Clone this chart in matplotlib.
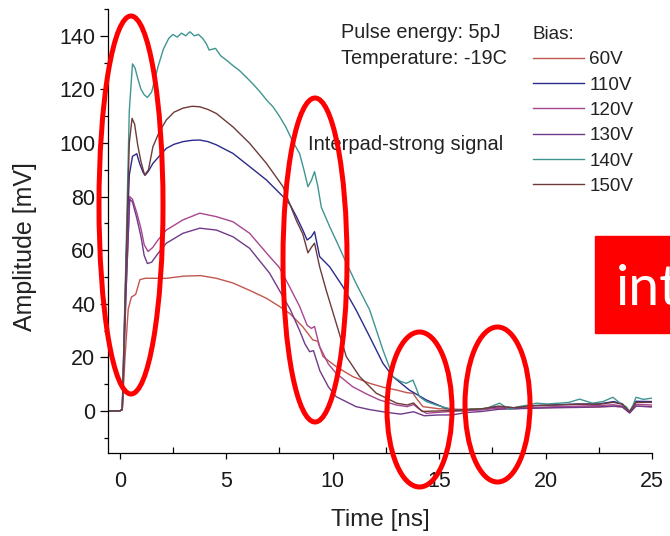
import matplotlib
matplotlib.use("Agg")
from matplotlib import pyplot as plt
from matplotlib.patches import Ellipse, Rectangle
from matplotlib.ticker import MultipleLocator

plt.rcParams['font.family'] = ['Liberation Sans', 'DejaVu Sans']

# 140V
t140 = [-0.55, 0.0, 0.12, 0.3, 0.45, 0.6, 0.72, 0.85, 1.0, 1.15,
        1.3, 1.5, 1.8, 2.05, 2.3, 2.5, 2.7, 2.9, 3.1, 3.3,
        3.5, 3.7, 3.9, 4.07, 4.2, 4.5, 4.75, 5.0, 5.3, 5.63,
        5.95, 6.26, 6.6, 6.9, 7.2, 7.5, 7.8, 8.1, 8.45, 8.65,
        8.84, 9.0, 9.15, 9.3, 9.47, 9.86, 10.3, 10.6, 11.1, 11.74,
        12.36, 12.83, 13.2, 13.46, 13.77, 13.9, 14.08, 14.4, 14.87, 15.3,
        15.8, 16.1, 16.5, 16.9, 17.3, 17.84, 18.3, 18.8, 19.2, 19.56,
        20.1, 20.65, 21.1, 21.6, 22.2, 22.7, 23.16, 23.5, 23.8, 23.94,
        24.1, 24.25, 24.6, 25.0]
a140 = [0.0, 0.0, 0.5, 60, 112, 129.5, 128, 124, 120, 118,
        117, 119, 128.5, 135, 139, 140.5, 139.5, 141, 140, 141.5,
        140, 140.5, 139, 137, 134.7, 135.3, 132.5, 131, 129, 127,
        124.5, 122, 119, 116, 113.5, 110, 106, 101, 96, 90,
        83.7, 86, 89.3, 84, 76, 68.8, 61.3, 56, 47.6, 37.7,
        22.8, 12.8, 11, 10.3, 11.5, 9, 5.3, 3.5, 2.2, 1.2,
        0.4, 0.0, 0.8, 0.6, 1.2, 2.9, 0.6, 1.7, 2.2, 2.9,
        2.6, 2.9, 3.2, 4.4, 2.9, 3.5, 5.1, 2.9, 1.5, -0.2,
        2.0, 5.1, 4.3, 4.8]

# 150V
t150 = [-0.55, 0.0, 0.12, 0.3, 0.45, 0.58, 0.7, 0.85, 1.0, 1.17,
        1.35, 1.56, 1.85, 2.19, 2.55, 2.97, 3.4, 3.76, 4.15, 4.54,
        5.32, 6.1, 6.89, 7.67, 8.0, 8.3, 8.6, 8.84, 9.0, 9.15,
        9.39, 9.7, 10.17, 10.64, 11.27, 12.05, 12.6, 13.0, 13.5, 13.8,
        14.2, 15.0, 16.0, 17.0, 17.8, 18.5, 19.5, 20.5, 21.5, 22.5,
        23.2, 23.6, 23.95, 24.25, 25.0]
a150 = [0.0, 0.0, 0.5, 55, 100, 109.2, 107, 99, 93, 88,
        90, 98.6, 104, 108.6, 111.5, 113, 113.7, 113.5, 112.5, 111,
        106, 99.9, 92.4, 83.7, 77, 71, 66, 59, 61, 62.6,
        53.8, 45, 32.7, 20.3, 12.8, 6.6, 4.5, 2.9, 2.2, 3.0,
        -0.2, 0.0, 0.3, 0.8, 1.8, 1.2, 2.0, 2.2, 2.5, 2.5,
        3.2, 2.5, -0.3, 3.2, 3.2]

# 110V
t110 = [-0.55, 0.0, 0.12, 0.3, 0.45, 0.6, 0.8, 0.95, 1.1, 1.2,
        1.35, 1.56, 1.85, 2.19, 2.55, 2.97, 3.4, 3.76, 4.15, 4.54,
        5.32, 6.1, 6.89, 7.67, 8.0, 8.3, 8.6, 8.8, 9.0, 9.15,
        9.39, 9.86, 10.48, 11.1, 11.74, 12.36, 12.83, 13.6, 14.4, 15.3,
        16.0, 17.0, 17.8, 18.5, 19.5, 20.5, 21.5, 22.5, 23.2, 23.6,
        23.95, 24.25, 25.0]
a110 = [0.0, 0.0, 0.5, 55, 88, 95, 96, 92, 89, 88,
        89.5, 92.4, 95, 98, 99.5, 100.5, 101, 101.1, 100.5, 99.3,
        96.1, 91.2, 86.2, 80, 77, 72.5, 67.5, 63.8, 65, 66.9,
        57.6, 53.8, 46.4, 37.7, 27.7, 17.8, 12.8, 7.8, 4.1, 1.0,
        0.2, 0.6, 1.6, 1.2, 2.0, 2.3, 2.6, 2.6, 3.5, 2.7,
        -0.3, 3.6, 3.5]

# 120V
t120 = [-0.55, 0.0, 0.12, 0.3, 0.47, 0.6, 0.8, 1.0, 1.15, 1.33,
        1.55, 1.8, 2.19, 2.97, 3.76, 4.54, 5.32, 6.1, 7.04, 7.5,
        8.0, 8.45, 8.8, 9.0, 9.15, 9.39, 9.8, 10.17, 10.95, 11.6,
        12.2, 13.0, 13.5, 13.8, 14.05, 14.4, 15.0, 16.0, 17.0, 17.8,
        18.5, 19.5, 20.5, 21.5, 22.5, 23.2, 23.6, 23.95, 24.25, 25.0]
a120 = [0.0, 0.0, 0.5, 45, 80, 79, 74, 68, 62, 59.5,
        61, 63.8, 67.5, 71.3, 73.8, 72.5, 70.6, 66.3, 57.6, 53.5,
        46, 39, 32, 30.8, 31.5, 24, 17.5, 14, 9, 6.3,
        4.1, 2.2, 1.6, 2.4, 0.8, -0.9, -0.5, 0.0, 0.4, 1.2,
        0.8, 1.3, 1.6, 1.8, 2.0, 2.3, 1.8, -0.5, 2.5, 2.2]

# 130V
t130 = [-0.55, 0.0, 0.12, 0.3, 0.47, 0.6, 0.8, 1.0, 1.15, 1.3,
        1.5, 1.8, 2.19, 2.97, 3.76, 4.54, 5.32, 6.1, 7.04, 7.5,
        8.0, 8.45, 8.7, 8.92, 9.1, 9.4, 9.8, 10.17, 11.1, 11.74,
        12.5, 13.2, 13.8, 14.3, 15.0, 15.6, 16.3, 17.0, 17.8, 18.5,
        19.5, 20.5, 21.5, 22.5, 23.2, 23.6, 23.95, 24.25, 25.0]
a130 = [0.0, 0.0, 0.5, 45, 79, 78, 72, 65, 58, 55,
        55.5, 58.8, 62.6, 66.3, 68.2, 67.5, 65, 60.7, 51.4, 45,
        38, 30, 25, 22.1, 22.5, 15, 9, 5.3, 1.6, 0.5,
        -0.5, -1.2, -0.3, -1.8, -1.5, -1.5, -0.6, -0.2, 0.6, 0.8,
        1.0, 1.2, 1.3, 1.5, 1.8, 1.5, -0.8, 1.8, 1.5]

# 60V
t60 = [-0.55, 0.0, 0.12, 0.25, 0.4, 0.55, 0.75, 0.95, 1.2, 1.6,
       2.2, 3.0, 3.8, 4.54, 5.3, 6.1, 6.9, 7.5, 7.98, 8.6,
       9.07, 9.3, 9.55, 10.17, 10.95, 11.74, 12.4, 13.0, 13.5, 13.77,
       14.0, 14.24, 15.0, 16.0, 17.0, 17.8, 18.5, 19.5, 20.5, 21.5,
       22.5, 23.2, 23.6, 23.95, 24.25, 25.0]
a60 = [0.0, 0.0, 0.5, 20, 38, 42.5, 43.5, 49, 49.5, 49.5,
       49.5, 50.3, 50.5, 49.5, 47.8, 45, 42, 39, 36.4, 31.4,
       26.5, 26, 20.3, 16.5, 12.8, 10.3, 8.8, 7.8, 6.8, 6.6,
       4, 1.6, 0.8, 0.6, 0.8, 1.0, 1.0, 1.2, 1.3, 1.4,
       1.5, 1.7, 1.5, 0.0, 1.8, 1.6]

labels = ["60V", "110V", "120V", "130V", "140V", "150V"]
colors = ["#c0574f", "#2a2a8c", "#a8458f", "#6f3a8a", "#3f9590", "#6e3a3a"]
times = [t60, t110, t120, t130, t140, t150]
amps = [a60, a110, a120, a130, a140, a150]

W, H = 670, 536
fig = plt.figure(figsize=(6.7, 5.36), dpi=100)
ax = fig.add_axes([108 / W, 1 - 453 / H, (652 - 108) / W, (453 - 9) / H])

lines = []
for t, a, c, lab in zip(times, amps, colors, labels):
    ln, = ax.plot(t, a, color=c, lw=1.0, label=lab)
    lines.append(ln)

ax.set_xlim(-0.55, 25)
ax.set_ylim(-15.7, 150)
ax.spines['top'].set_visible(False)
ax.spines['right'].set_visible(False)
for s in ['left', 'bottom']:
    ax.spines[s].set_linewidth(0.9)

ax.xaxis.set_major_locator(MultipleLocator(5))
ax.xaxis.set_minor_locator(MultipleLocator(2.5))
ax.yaxis.set_major_locator(MultipleLocator(20))
ax.yaxis.set_minor_locator(MultipleLocator(10))
ax.tick_params(axis='x', which='major', direction='out', length=4, width=0.9,
               labelsize=15.5, pad=9, labelcolor='#1a1a1a')
ax.tick_params(axis='x', which='minor', direction='in', length=4, width=0.9)
ax.tick_params(axis='y', which='major', direction='out', length=6, width=0.9,
               labelsize=15.5, pad=3, labelcolor='#1a1a1a')
ax.tick_params(axis='y', which='minor', direction='out', length=3, width=0.9)
ax.set_yticks([0, 20, 40, 60, 80, 100, 120, 140])

ax.set_xlabel("Time [ns]", fontsize=17.5, color='#222222')
ax.set_ylabel("Amplitude [mV]", fontsize=18, color='#222222')
ax.xaxis.set_label_coords(0.5, -0.151)
ax.yaxis.set_label_coords(-0.152, 0.465)
ax.xaxis.label.set_va('center')
ax.yaxis.label.set_va('center')

# text annotations
fig.text(341 / W, 1 - 33 / H, "Pulse energy: 5pJ", fontsize=14.3, va='center', color='#222222')
fig.text(341 / W, 1 - 58 / H, "Temperature: -19C", fontsize=14.3, va='center', color='#222222')
fig.text(308 / W, 1 - 145 / H, "Interpad-strong signal", fontsize=14.5, va='center', color='#222222')

leg = ax.legend(handles=lines, title="Bias:", loc='upper left',
                bbox_to_anchor=(532.5 / W, 1 - 26 / H), bbox_transform=fig.transFigure,
                frameon=False, fontsize=13.6, title_fontsize=13.6,
                handlelength=2.75, handletextpad=0.26, labelspacing=0.43,
                borderpad=0, borderaxespad=0, alignment='left')
for txt in leg.get_texts():
    txt.set_color('#222222')
leg.get_title().set_color('#222222')

# slide overlay: red box and red ellipses
fig.add_artist(Rectangle((595 / W, 1 - 333 / H), (W - 595) / W, (333 - 236) / H,
                         transform=fig.transFigure, color='#ff0000', zorder=20))
fig.text(616 / W, 1 - 305 / H, "int", fontsize=40, color='white',
         family=['Lato', 'DejaVu Sans'], va='baseline', zorder=21)

for cx, cy, w, h in [(131, 205, 64, 378), (315, 260, 64, 324),
                     (419.5, 409.5, 65, 155), (497.5, 404.5, 65, 155)]:
    fig.add_artist(Ellipse((cx / W, 1 - cy / H), w / W, h / H, transform=fig.transFigure,
                           fill=False, ec='#ff0000', lw=3.6, zorder=22))

fig.savefig("out.png", dpi=100)
